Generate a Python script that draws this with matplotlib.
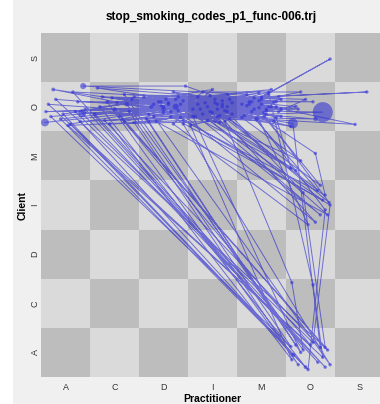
import matplotlib
matplotlib.use("Agg")
import matplotlib.pyplot as plt
import numpy as np
from matplotlib.patches import Rectangle

plt.rcParams['font.family'] = ['Liberation Sans', 'DejaVu Sans']

codes = ['A', 'C', 'D', 'I', 'M', 'O', 'S']
title = "stop_smoking_codes_p1_func-006.trj"

# trajectory: practitioner code and client code per step (groups of 10)
prac_code = list("AIMCMDOAOA" "IDMIOMCDMC" "OODIMADMIO" "DMICOAMDIM" "OOAIDMSIDA"
                 "OCMDIOIODM" "COOIMDOIAO" "CIMODOOAMI" "MOMSICOCMD" "OIMAOAIODM"
                 "OCODMOIDAO" "OMICMODIAO" "CMDIOODAOC" "IMCODIAMOD" "MCIODMAIM"
                 "DOIMDIOMCI" "MDODIMOICO" "IMDOCIDOIM" "ADMIOOCMDI")
client_code = list("OOOOOOOOAO" "OOOOIOOOOO" "AOOOOOOOOI" "OOOOAOOOOO" "IAOOOOOOOO"
                   "AOOOOOOMOO" "OACOOOIOOA" "OOOOOIAOOO" "OSOOOOAOOO" "IOOOAOOMOO"
                   "OOAOOIOOOA" "COOOOIOOOA" "OOOOMIOOAO" "OOOOOOOOOO" "OOOOOOOOO"
                   "OAOOOOIOOO" "OOAOOOMOOA" "OOOOOOOIOO" "OOOOIAOOOO")
jitter_x = [-0.42, 0.10, -0.20, -0.35, 0.30, 0.00, 0.25, 0.30, -0.35, -0.10,
            0.35, -0.25, 0.10, -0.30, 0.15, -0.40, 0.10, 0.40, 0.40, -0.20,
            0.20, -0.36, -0.10, 0.00, -0.30, 0.36, 0.45, 0.10, -0.40, 0.25,
            0.15, 0.00, 0.20, 0.30, -0.40, -0.30, 0.35, -0.40, 0.40, -0.10,
            0.30, -0.05, 0.10, -0.15, 0.20, 0.20, -0.09, 0.10, -0.30, 0.34,
            0.30, -0.40, 0.40, 0.30, -0.20, -0.20, 0.30, -0.20, 0.05, -0.35,
            0.25, -0.15, -0.38, 0.25, 0.15, -0.15, 0.35, -0.05, -0.20, 0.35,
            0.00, 0.40, -0.25, -0.30, 0.35, 0.40, 0.05, 0.20, 0.25, -0.35,
            -0.25, 0.40, 0.00, 0.15, 0.05, -0.15, -0.25, 0.40, 0.30, 0.10,
            0.10, 0.15, -0.05, 0.15, 0.15, 0.40, -0.25, -0.30, 0.25, 0.35,
            -0.10, 0.20, -0.30, -0.35, 0.05, 0.20, 0.35, 0.00, -0.35, 0.25,
            0.05, 0.15, -0.10, 0.35, -0.15, -0.05, 0.20, 0.00, -0.05, -0.10,
            -0.30, 0.20, -0.20, 0.30, 0.10, 0.30, 0.40, 0.05, 0.00, 0.15,
            -0.30, 0.40, -0.05, -0.40, 0.30, 0.15, -0.25, -0.40, 0.10, -0.05,
            0.05, 0.05, 0.20, -0.25, 0.15, -0.30, -0.40, -0.10, 0.25,
            -0.30, -0.20, -0.40, 0.00, 0.10, 0.10, 0.38, -0.05, 0.40, 0.25,
            -0.15, -0.20, 0.40, 0.40, -0.05, 0.30, -0.40, 0.05, -0.10, -0.38,
            -0.45, 0.15, -0.05, 0.05, -0.25, 0.20, 0.25, 0.20, -0.20, -0.20,
            0.25, 0.35, 0.10, 0.30, -0.15, 0.30, 0.20, -0.05, 0.00, 0.05]
jitter_y = [-0.32, 0.05, -0.10, 0.38, 0.10, -0.05, -0.11, -0.30, -0.05, -0.25,
            0.15, 0.00, -0.08, 0.20, 0.30, 0.05, -0.20, 0.12, -0.05, -0.28,
            0.10, -0.34, 0.10, -0.12, 0.25, 0.42, 0.42, -0.15, -0.05, 0.10,
            -0.20, 0.05, 0.00, -0.10, 0.12, -0.20, 0.20, 0.20, -0.15, -0.25,
            -0.10, -0.35, -0.35, 0.08, 0.30, 0.00, -0.36, -0.20, -0.15, -0.13,
            -0.30, -0.15, 0.15, -0.08, 0.30, 0.30, 0.00, -0.10, 0.15, -0.18,
            0.05, 0.05, 0.42, -0.30, 0.30, -0.30, -0.20, -0.10, 0.15, 0.05,
            -0.05, 0.08, 0.10, 0.00, -0.22, 0.00, 0.20, -0.10, -0.30, -0.20,
            0.05, -0.03, 0.20, 0.30, 0.15, 0.10, -0.25, -0.32, 0.00, 0.08,
            -0.35, -0.18, 0.12, 0.30, -0.20, -0.05, -0.05, -0.30, 0.00, -0.10,
            0.15, 0.25, 0.15, -0.25, -0.20, 0.40, -0.25, -0.12, 0.05, -0.10,
            0.38, 0.25, -0.28, 0.15, -0.05, -0.40, -0.35, 0.35, -0.15, -0.30,
            0.00, 0.35, 0.05, 0.25, 0.05, 0.20, -0.28, -0.38, 0.15, -0.25,
            0.05, -0.20, 0.18, -0.40, 0.20, -0.32, 0.35, -0.22, -0.25, 0.02,
            -0.12, 0.08, 0.12, -0.05, -0.10, 0.02, -0.10, 0.00, 0.08,
            -0.30, 0.00, -0.20, 0.15, 0.05, -0.05, 0.05, -0.02, 0.20, -0.08,
            0.18, -0.20, -0.25, -0.35, 0.22, -0.22, -0.25, -0.30, -0.35, -0.15,
            -0.38, 0.00, 0.10, 0.10, 0.20, 0.05, 0.15, -0.20, -0.15, 0.10,
            0.10, 0.05, -0.05, -0.10, 0.25, 0.10, -0.30, 0.28, 0.00, 0.08]
point_size = [33, 6, 6, 6, 6, 10, 207, 6, 10, 6,
              6, 8, 6, 6, 6, 6, 6, 6, 6, 6,
              6, 52, 6, 6, 6, 19, 6, 6, 6, 6,
              6, 6, 6, 6, 6, 6, 6, 6, 6, 10,
              6, 6, 6, 6, 6, 6, 6, 6, 6, 33,
              6, 6, 6, 6, 6, 6, 6, 6, 6, 6,
              10, 6, 6, 6, 6, 6, 6, 6, 6, 6,
              10, 6, 6, 8, 6, 6, 6, 6, 6, 6,
              6, 6, 6, 6, 6, 6, 6, 6, 6, 6,
              6, 6, 6, 6, 6, 6, 6, 6, 19, 6,
              6, 6, 6, 6, 6, 6, 6, 6, 6, 6,
              6, 6, 6, 6, 6, 6, 6, 6, 6, 8,
              6, 6, 6, 6, 6, 6, 6, 6, 6, 6,
              6, 6, 6, 6, 6, 6, 8, 6, 10, 6,
              6, 6, 6, 6, 6, 6, 6, 6, 6,
              6, 6, 6, 6, 6, 6, 6, 6, 6, 6,
              6, 6, 6, 6, 6, 6, 6, 6, 6, 6,
              6, 6, 6, 6, 6, 6, 6, 6, 6, 6,
              6, 6, 6, 6, 6, 6, 6, 6, 6, 6]

n = min(len(prac_code), len(client_code), len(jitter_x), len(jitter_y), len(point_size))
xs = np.array([codes.index(c) for c in prac_code[:n]]) + np.array(jitter_x[:n])
ys = np.array([codes.index(c) for c in client_code[:n]]) + np.array(jitter_y[:n])
ss = np.array(point_size[:n])

fig = plt.figure(figsize=(3.8, 4.04), dpi=100, facecolor='white')
fig.patches.append(Rectangle((13 / 380, 0), 1, 1, transform=fig.transFigure,
                             facecolor='#f0f0f0', edgecolor='none', zorder=-10))
ax = fig.add_axes([41 / 380, 27 / 404, 343 / 380, 344 / 404])

k = len(codes)
board = np.add.outer(np.arange(k), np.arange(k)) % 2
ax.pcolormesh(np.arange(k + 1) - 0.5, np.arange(k + 1) - 0.5, board,
              cmap=matplotlib.colors.ListedColormap(['#bdbdbd', '#dadada']),
              shading='flat', zorder=0)

ax.plot(xs, ys, color='#0000cc', alpha=0.5, lw=0.7, zorder=2)
ax.scatter(xs, ys, s=ss, color='#2a2ad8', alpha=0.55, edgecolors='none', zorder=3)

ax.set_xlim(-0.5, k - 0.5)
ax.set_ylim(-0.5, k - 0.5)
ax.set_xticks(range(k))
ax.set_xticklabels(codes, fontsize=6.5, color='#333333')
ax.set_yticks(range(k))
ax.set_yticklabels(codes, fontsize=6.5, color='#333333', rotation=90, va='center')
ax.tick_params(axis='x', length=0, pad=4)
ax.tick_params(axis='y', length=0, pad=1)
for sp in ax.spines.values():
    sp.set_visible(False)
ax.set_xlabel('Practitioner', fontsize=7.5, fontweight='bold', labelpad=2)
ax.set_ylabel('Client', fontsize=7.5, fontweight='bold', labelpad=2)
fig.text(211 / 380, 1 - 17 / 404, title, fontsize=8.5, fontweight='bold',
         ha='center', va='center')

fig.savefig('out.png', dpi=100, facecolor=fig.get_facecolor())
